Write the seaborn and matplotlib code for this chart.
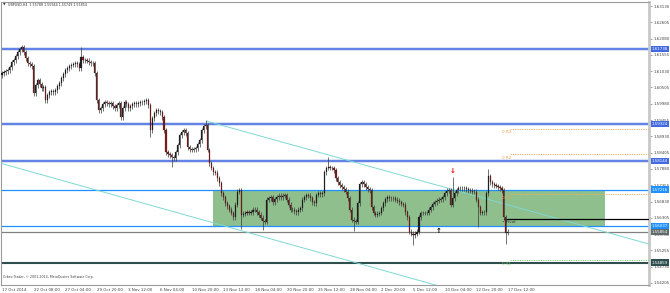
import numpy as np
import pandas as pd
import matplotlib
matplotlib.use("Agg")
import matplotlib.pyplot as plt
import seaborn as sns
from matplotlib.patches import Rectangle

# ---------------- data ----------------
symbol_text = "GBPUSD,H4  1.55788 1.55944 1.55749 1.55854"
copyright_text = "Orbex Trader, \u00a9 2001-2014, MetaQuotes Software Corp."

first_open = 1.6090
closes = [
    1.6097, 1.6100, 1.6103, 1.6106, 1.6116, 1.6132, 1.6139, 1.6151, 1.6164, 1.6174, 1.6180, 1.6164, 1.6145, 1.6129, 1.6126, 1.6119,
    1.6032, 1.6058, 1.6074, 1.6061, 1.6048, 1.6051, 1.6010, 1.6026, 1.6035, 1.6039, 1.6035, 1.6042, 1.6055, 1.6064, 1.6080, 1.6093,
    1.6106, 1.6113, 1.6119, 1.6123, 1.6126, 1.6129, 1.6126, 1.6113, 1.6148, 1.6139, 1.6139, 1.6136, 1.6132, 1.6129, 1.6129, 1.6097,
    1.6010, 1.5977, 1.5984, 1.5997, 1.6003, 1.6000, 1.5997, 1.6000, 1.5990, 1.5984, 1.5994, 1.6000, 1.5955, 1.5984, 1.6003, 1.5997,
    1.5984, 1.5990, 1.5997, 1.6000, 1.5997, 1.6000, 1.6003, 1.6003, 1.6006, 1.6010, 1.5994, 1.5913, 1.5952, 1.5968, 1.5977, 1.5974,
    1.5971, 1.5955, 1.5913, 1.5842, 1.5836, 1.5832, 1.5826, 1.5823, 1.5842, 1.5865, 1.5897, 1.5906, 1.5913, 1.5903, 1.5858, 1.5852,
    1.5849, 1.5852, 1.5855, 1.5868, 1.5881, 1.5913, 1.5926, 1.5929, 1.5849, 1.5807, 1.5791, 1.5778, 1.5775, 1.5758, 1.5742, 1.5710,
    1.5697, 1.5678, 1.5668, 1.5656, 1.5646, 1.5633, 1.5672, 1.5714, 1.5720, 1.5640, 1.5643, 1.5646, 1.5649, 1.5646, 1.5649, 1.5656,
    1.5656, 1.5649, 1.5640, 1.5630, 1.5620, 1.5617, 1.5688, 1.5694, 1.5697, 1.5681, 1.5691, 1.5697, 1.5701, 1.5697, 1.5701, 1.5704,
    1.5688, 1.5672, 1.5656, 1.5656, 1.5652, 1.5649, 1.5656, 1.5662, 1.5688, 1.5697, 1.5704, 1.5701, 1.5694, 1.5681, 1.5678, 1.5704,
    1.5710, 1.5707, 1.5710, 1.5778, 1.5791, 1.5794, 1.5791, 1.5791, 1.5784, 1.5758, 1.5745, 1.5736, 1.5729, 1.5723, 1.5714, 1.5694,
    1.5656, 1.5624, 1.5620, 1.5617, 1.5678, 1.5739, 1.5745, 1.5739, 1.5729, 1.5723, 1.5720, 1.5665, 1.5646, 1.5640, 1.5643, 1.5646,
    1.5662, 1.5678, 1.5691, 1.5697, 1.5694, 1.5694, 1.5694, 1.5688, 1.5685, 1.5681, 1.5675, 1.5672, 1.5649, 1.5633, 1.5585, 1.5579,
    1.5575, 1.5579, 1.5585, 1.5633, 1.5646, 1.5646, 1.5646, 1.5646, 1.5656, 1.5665, 1.5675, 1.5681, 1.5685, 1.5688, 1.5691, 1.5697,
    1.5710, 1.5717, 1.5720, 1.5672, 1.5694, 1.5710, 1.5720, 1.5726, 1.5726, 1.5726, 1.5726, 1.5723, 1.5720, 1.5717, 1.5714, 1.5714,
    1.5688, 1.5665, 1.5646, 1.5649, 1.5649, 1.5710, 1.5765, 1.5745, 1.5739, 1.5736, 1.5733, 1.5729, 1.5726, 1.5720, 1.5633, 1.5582,
    1.5585,
]
spike_bars = [40, 75, 86, 103, 121, 132, 165, 178, 208, 228, 241, 246, 255]
spike_prices = [1.6181, 1.5891, 1.5795, 1.5945, 1.5595, 1.5591, 1.5827, 1.5588, 1.5543, 1.5763, 1.5602, 1.5788, 1.5546]

date_labels = ["17 Oct 2014", "22 Oct 08:00", "27 Oct 04:00", "29 Oct 20:00", "3 Nov 12:00",
               "6 Nov 04:00", "10 Nov 20:00", "13 Nov 12:00", "18 Nov 04:00", "20 Nov 20:00",
               "25 Nov 12:00", "28 Nov 04:00", "2 Dec 20:00", "5 Dec 12:00", "10 Dec 04:00",
               "12 Dec 20:00", "17 Dec 12:00"]
bars_per_label = 16

price_ticks = [1.63130, 1.62605, 1.62080, 1.61555, 1.61030, 1.60505, 1.59980, 1.59455, 1.58930,
               1.58405, 1.57880, 1.57355, 1.56830, 1.56305, 1.55780, 1.55255, 1.54730, 1.54205]

major_levels = [1.61738, 1.59324, 1.58144]
range_levels = [1.57216, 1.56037]
bid_level = 1.55854
support_level = 1.54859

pivot_names = ["0 R3", "0 R2", "0 R1", "Pivot", "0 S1"]
pivot_values = [1.5918, 1.5836, 1.5707, 1.5627, 1.5493]
pivot_start_bar = 253

channel_names = ["upper", "upper", "lower", "lower"]
channel_bars = [103.7, 327.4, -0.5, 230.0]
channel_prices = [1.5942, 1.5546, 1.5806, 1.5395]

range_box_bars = [107, 305]
sell_arrow = (228, 1.5772)
buy_arrow = (221, 1.5589)

# ---------------- build ----------------
sns.set_style("white")
plt.rcParams['font.family'] = ['DejaVu Sans']

n = len(closes)
bars = np.arange(n)
opens = [first_open] + closes[:-1]
df = pd.DataFrame({"bar": bars, "open": opens, "close": closes})
df["high"] = df[["open", "close"]].max(axis=1) + 0.0008
df["low"] = df[["open", "close"]].min(axis=1) - 0.0008
for b, p in zip(spike_bars, spike_prices):
    if p > df.at[b, "high"]:
        df.at[b, "high"] = p
    elif p < df.at[b, "low"]:
        df.at[b, "low"] = p

W, H = 670, 293
fig = plt.figure(figsize=(W / 100, H / 100), dpi=100)
ax = fig.add_axes([1 / W, 8 / H, 648 / W, 283 / H])
xmax = 327.4
ax.set_xlim(-0.5, xmax)
ax.set_ylim(1.5414, 1.6326)

# range box
ax.add_patch(Rectangle((range_box_bars[0], range_levels[1]), range_box_bars[1] - range_box_bars[0],
                       range_levels[0] - range_levels[1], facecolor="#8fbf8c", edgecolor="none", zorder=1))

# horizontal levels
for lv in major_levels:
    ax.axhline(lv, color="#cfdaf5", lw=2.6, zorder=2)
    ax.axhline(lv, color="#4169e1", lw=1.1, zorder=2.1)
for lv in range_levels:
    ax.axhline(lv, color="#1e90ff", lw=0.9, zorder=2.1)
ax.axhline(bid_level, color="#808080", lw=0.9, zorder=2)
ax.axhline(support_level, color="#2f4f4f", lw=1.5, zorder=2)

# channel lines
ch = pd.DataFrame({"line": channel_names, "bar": channel_bars, "price": channel_prices})
sns.lineplot(data=ch, x="bar", y="price", units="line", estimator=None,
             color="#7fd8d4", lw=0.7, ax=ax, zorder=3, legend=False)

# pivot lines
for name, val in zip(pivot_names, pivot_values):
    if name == "Pivot":
        ax.plot([pivot_start_bar + 1, xmax], [val, val], color="black", lw=0.9, zorder=3)
        col = "#333333"
        txt = "\u2022 Pivot"
    elif name.endswith("S1"):
        ax.plot([pivot_start_bar + 4, xmax], [val, val], color="#7cd36b", lw=0.7, ls=(0, (1.2, 1.2)), zorder=3)
        col = "#6cc95a"
        txt = name
    else:
        ax.plot([pivot_start_bar + 4, xmax], [val, val], color="#f5b060", lw=0.7, ls=(0, (1.2, 1.2)), zorder=3)
        col = "#f0a040"
        txt = name
    ax.annotate(txt, xy=(pivot_start_bar, val), xytext=(0, -3.5), textcoords="offset pixels",
                fontsize=3.0, color=col, ha="left", va="center", zorder=6)

# candles
up = df["close"] >= df["open"]
ax.vlines(df["bar"], df["low"], df["high"], color="#3a3a3a", lw=0.5, zorder=4)
body = (df["close"] - df["open"]).abs().clip(lower=0.00006)
bottom = df[["open", "close"]].min(axis=1)
ax.bar(df["bar"], body, bottom=bottom, width=0.55,
       color=np.where(up, "#222222", "#8b1a1a"), edgecolor="#111111", linewidth=0.15, zorder=5)

# arrows
ax.annotate("\u2193", xy=sell_arrow, fontsize=5, color="red", ha="center", va="bottom", fontweight="bold", zorder=7)
ax.annotate("\u2191", xy=buy_arrow, fontsize=5, color="black", ha="center", va="center", fontweight="bold", zorder=7)

# axes styling
ax.yaxis.tick_right()
ax.set_yticks(price_ticks)
ax.set_yticklabels([f"{t:.5f}" for t in price_ticks])
ax.tick_params(axis="y", length=2, width=0.5, colors="#777777", labelsize=2.9, pad=1.5, labelcolor="#444444")
ax.set_xticks([i * bars_per_label for i in range(len(date_labels))])
ax.set_xticklabels(date_labels, ha="left")
ax.tick_params(axis="x", length=2, width=0.5, colors="#777777", labelsize=2.9, pad=0.5, labelcolor="#444444")
ax.set_xlabel("")
ax.set_ylabel("")
for side in ["left", "top", "bottom"]:
    ax.spines[side].set_color("#9a9a9a")
    ax.spines[side].set_linewidth(0.8)
ax.spines["right"].set_color("#c8c8c8")
ax.spines["right"].set_linewidth(2.0)

# boxed price tags
def tag(val, fc):
    ax.annotate(f"{val:.5f}", xy=(1, val), xycoords=("axes fraction", "data"), xytext=(3, 0),
                textcoords="offset pixels", fontsize=2.9, color="white", ha="left", va="center",
                bbox=dict(boxstyle="square,pad=0.3", fc=fc, ec="none"), annotation_clip=False, zorder=10)

for lv in major_levels:
    tag(lv, "#4169e1")
for lv in range_levels:
    tag(lv, "#1e90ff")
tag(bid_level, "#5f6b6b")
tag(support_level, "#2f4f4f")

fig.text(3 / W, 1 - 5 / H, "\u25bc", fontsize=2.4, color="#333333", va="center")
fig.text(8 / W, 1 - 5 / H, symbol_text, fontsize=2.3, color="#333333", va="center")
fig.text(3 / W, 1 - 277 / H, copyright_text, fontsize=2.3, color="#444444", va="center")

fig.savefig("out.png", dpi=100)
